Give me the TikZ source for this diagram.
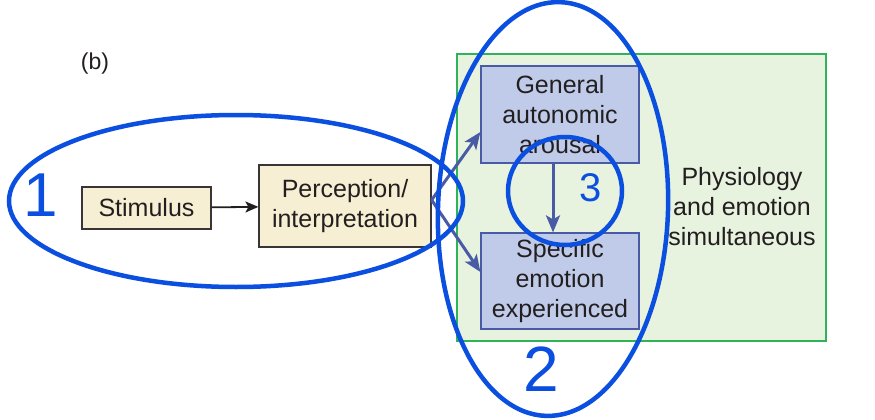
\documentclass[tikz,border=0pt]{standalone}
\usepackage{fontspec}
\setmainfont{Liberation Sans}
\usetikzlibrary{arrows.meta}
\definecolor{boxtan}{HTML}{F6EFD3}
\definecolor{boxblue}{HTML}{BFCBE8}
\definecolor{edgeblue}{HTML}{4A5BA6}
\definecolor{panelgreen}{HTML}{E7F3DF}
\definecolor{edgegreen}{HTML}{2EB35A}
\definecolor{penblue}{HTML}{0A4FE0}
\definecolor{inktext}{HTML}{231F20}
\begin{document}
\begin{tikzpicture}[x=1pt,y=-1pt,
    txt/.style={text=inktext,font=\fontsize{25}{30}\selectfont,align=center,inner sep=0pt},
    tanbox/.style={txt,draw=inktext!90,fill=boxtan,line width=1.2pt},
    bluebox/.style={txt,draw=edgeblue,fill=boxblue,line width=1.2pt,minimum width=158pt},
    bluearrow/.style={-{Stealth[length=17pt,width=14pt,inset=4pt]},line width=3pt,edgeblue},
    pen/.style={penblue,line width=4.5pt},
    pennum/.style={text=penblue,inner sep=0pt}]

        \useasboundingbox (0,0) rectangle (875,420);

        % panel behind the right part
        \filldraw[draw=edgegreen,fill=panelgreen,line width=1.2pt] (457,54) rectangle (826,341);

        \node[txt,font=\fontsize{23}{28}\selectfont] (tag) at (95,64) {(b)};

        \node[tanbox,minimum width=129pt,minimum height=42pt] (stimulus) at (146.5,208) {Stimulus};
        \node[tanbox,minimum width=172pt,minimum height=82pt] (perception) at (345,206) {Perception/\\interpretation};

        \node[bluebox,minimum height=97pt] (general) at (560,114.5) {General\\autonomic\\arousal};
        \node[bluebox,minimum height=96pt] (specific) at (560,281) {Specific\\emotion\\experienced};

        \node[txt] (physiology) at (742,207) {Physiology\\and emotion\\simultaneous};

        \draw[-{Stealth[length=13pt,width=11pt,inset=3pt]},line width=1.8pt,inktext] (stimulus) -- (perception);
        \draw[bluearrow] ([yshift=6pt]perception.east) -- ([yshift=-17.5pt]general.west);
        \draw[bluearrow] ([yshift=6pt]perception.east) -- ([yshift=9pt]specific.west);
        \draw[bluearrow] ([xshift=-7pt]general.south) -- ([xshift=-7pt]specific.north);

        % hand-drawn marks on top
        \draw[pen] (236,201) ellipse [x radius=227, y radius=86];
        \draw[pen,rotate around={-2:(553,209)}] (553,209) ellipse [x radius=115, y radius=207];
        \draw[pen] (565,191) ellipse [x radius=57, y radius=54];

        \node[pennum,font=\fontsize{62}{62}\selectfont] (one) at (41,195) {1};
        \node[pennum,font=\fontsize{64}{64}\selectfont] (two) at (541,369) {2};
        \node[pennum,font=\fontsize{40}{40}\selectfont] (three) at (591,188) {3};

\end{tikzpicture}
\end{document}
